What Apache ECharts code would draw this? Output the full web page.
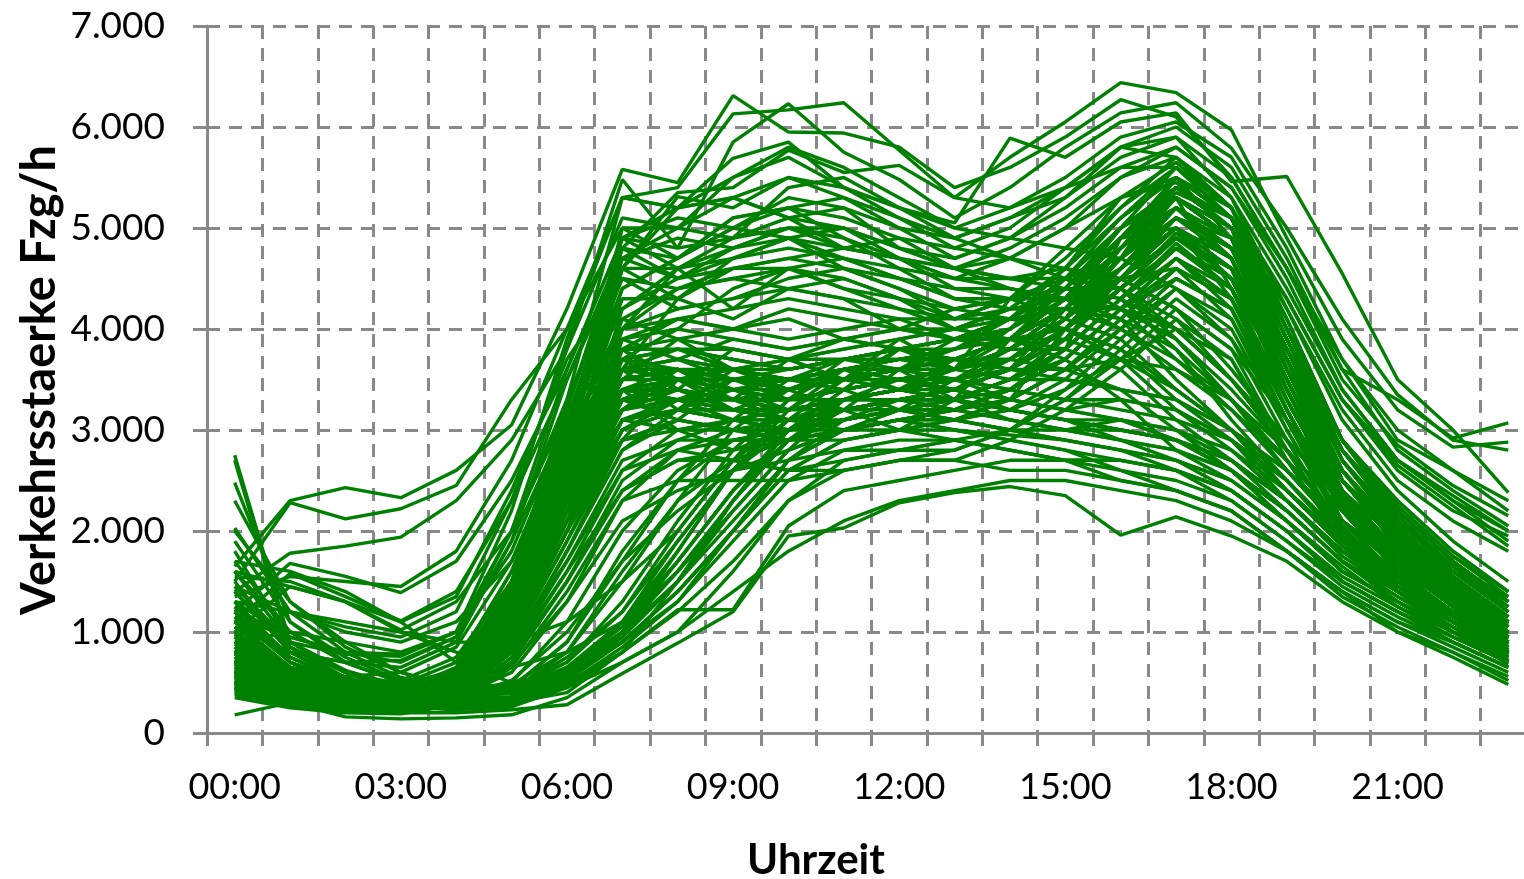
<!DOCTYPE html>
<html lang="de">
<head>
    <meta charset="UTF-8">
    <title>Verkehrsstaerke Tagesganglinien</title>
    <script src="https://cdn.jsdelivr.net/npm/echarts@6.0.0/dist/echarts.min.js"></script>
    <style>
        html, body { margin: 0; padding: 0; background: #fff; overflow: hidden; }
    </style>
</head>
<body>
    <!-- a bit wider than the window: the plot area runs past the right edge, as in the original -->
    <div id="main" style="width: 1540px;height:879px;"></div>
    <script type="text/javascript">
        // hour categories (one point per hour)
        const hours = ['00:00','01:00','02:00','03:00','04:00','05:00','06:00','07:00','08:00','09:00','10:00','11:00',
                       '12:00','13:00','14:00','15:00','16:00','17:00','18:00','19:00','20:00','21:00','22:00','23:00'];

        // high volume roads (busy also at night)
        const highLines = [
            [1650,2300,2430,2330,2600,3050,4200,5580,5450,6310,5950,5940,5800,5400,5600,5900,6270,6100,5500,4600,3600,3300,2920,3070],
            [1500,2280,2120,2220,2450,3300,4000,5300,5400,6130,6170,6240,5770,5300,5700,6050,6440,6340,5970,4900,3900,3200,2830,2880],
            [1400,1780,1850,1940,2300,2900,3800,5480,4800,5850,6230,5750,5480,5100,5400,5800,6140,6240,5790,5000,4100,3350,2900,2800],
            [1200,1680,1550,1390,1700,2500,3600,4900,5200,5690,5850,5400,5200,5050,5890,5700,6050,6140,5460,5510,4550,3500,3000,2380],
            [1100,1580,1350,1110,1400,2300,3500,4800,5350,5400,5770,5550,5620,5300,5200,5500,5900,6050,5700,4800,3700,2900,2600,2200],
            [1000,1450,1300,1020,1300,2000,3300,4600,5310,5200,5500,5300,5000,4900,5100,5300,5700,5900,5300,4400,3400,2700,2350,2000],
            [950,1200,1000,900,1100,1700,3000,4400,4700,5000,5200,5100,4900,4800,5000,5400,5800,5700,5200,4300,3300,2600,2200,1950],
            [900,1000,900,800,1000,1800,3100,4200,4600,4800,5000,5000,4800,4700,4900,5200,5600,5600,5100,4200,3200,2500,2100,1800],
            [1250,900,780,760,1000,2200,3900,5300,5200,5300,5500,5400,5200,5000,5200,5400,5800,6000,5600,4700,3600,2800,2400,2050],
            [1350,1550,1500,1450,1800,2700,4000,5000,4700,5100,5200,5300,5100,4900,5100,5400,5600,5800,5400,4600,3700,3000,2600,2300],
            [1050,800,700,650,900,1900,3500,4700,4900,4800,4900,4800,4700,4600,4800,5100,5500,5800,5400,4500,3400,2700,2300,1900],
            [1600,1450,1300,1100,1350,2400,3700,4500,4400,4600,4700,4800,4700,4600,4700,5000,5500,5700,5200,4300,3300,2700,2300,2000],
            [1150,950,800,700,950,2000,3600,4900,5100,5000,4900,4700,4600,4500,4700,5000,5300,5500,5100,4300,3300,2650,2250,1850],
            [1450,1200,1050,950,1200,2300,3800,5100,5000,4900,5100,5200,5000,4700,4900,5300,5800,5900,5500,4600,3500,2850,2450,2150]
        ];

        // morning-heavy direction
        const morningLines = [
            [600,400,320,300,450,1200,2800,5000,5000,5500,5700,5400,5100,4800,4700,4600,4500,4200,3800,3100,2400,1900,1500,1100],
            [550,380,300,290,420,1100,2600,4600,5200,5300,5100,5000,4700,4500,4400,4300,4200,4000,3500,2800,2200,1700,1300,1000],
            [700,450,350,330,500,1300,3000,4800,4700,5000,5300,5200,4800,4600,4500,4600,4400,3900,3300,2600,2000,1600,1300,950],
            [500,350,280,270,400,1000,2400,4200,4500,4800,5000,4900,4600,4300,4200,4200,4000,3700,3200,2600,2000,1550,1200,900],
            [650,420,330,320,480,1200,2700,4300,4300,4600,4700,4600,4500,4300,4300,4400,4300,3800,3100,2500,1900,1500,1200,900],
            [800,500,380,350,550,1400,3100,4500,4200,4300,4400,4300,4200,4100,4200,4300,4500,4200,3600,2900,2300,1800,1400,1000],
            [600,400,300,300,450,1150,2500,4000,4400,4500,4400,4300,4000,3900,3900,4000,3800,3300,2900,2300,1800,1400,1100,800],
            [450,330,260,250,380,900,2200,3800,4100,4200,4300,4200,4100,3900,3800,3800,3600,3100,2700,2200,1700,1300,1000,750],
            [700,450,340,320,500,1250,2900,4100,3900,4000,4100,3900,3800,3700,3700,3600,3400,3000,2600,2100,1600,1300,1050,800],
            [550,370,290,280,420,1000,2300,3700,4000,4400,4600,4400,4200,4000,3900,3700,3300,2800,2500,2100,1650,1250,1000,700],
            [750,480,370,340,520,1400,3200,4800,4500,4700,4900,4600,4400,4100,4300,4300,4000,3600,3200,2700,2100,1700,1350,1000],
            [500,360,280,270,400,1100,2700,4400,4700,5100,5200,4900,4700,4400,4300,4100,3900,3400,3000,2400,1900,1500,1150,850],
            [620,420,320,300,460,1200,2800,4600,4300,4100,4400,4500,4300,4000,4100,4000,3700,3200,2800,2300,1800,1450,1100,800],
            [900,560,420,380,560,1500,3300,5300,5200,5500,5800,5600,5300,5000,4900,4800,4700,4400,3900,3100,2500,2000,1600,1200],
            [550,390,300,290,430,1100,2500,4000,4600,4900,5400,5500,5200,4900,4700,4500,4200,3700,3300,2700,2100,1650,1300,950],
            [680,440,340,320,480,1250,2900,4700,5000,5300,5100,4800,4900,4600,4500,4400,4300,4000,3500,2800,2200,1750,1350,1000],
            [450,330,260,240,360,950,2100,3600,4300,4700,4900,5000,4800,4600,4400,4300,4100,3500,3000,2400,1850,1400,1100,800],
            [800,520,390,360,540,1300,3000,4900,4600,4200,4600,4700,4500,4300,4200,4200,4100,3800,3300,2700,2100,1650,1300,950],
            [680,460,340,320,500,1300,3000,4600,4600,4700,4800,4700,4500,4400,4400,4300,4200,3900,3400,2800,2200,1750,1350,1000],
            [560,380,290,280,420,1050,2400,4000,4200,4300,4500,4600,4400,4200,4100,4000,3800,3400,3000,2500,1950,1500,1150,850],
            [720,470,360,340,520,1350,3100,4700,4500,4600,4600,4500,4300,4200,4300,4400,4400,4100,3500,2900,2300,1800,1400,1050],
            [600,410,310,300,450,1150,2600,4100,4400,4500,4600,4400,4300,4100,4100,4200,4200,3900,3300,2700,2100,1650,1250,900],
            [820,530,400,370,560,1450,3200,4900,4800,4900,5000,4800,4700,4500,4500,4500,4400,4000,3500,2900,2300,1850,1450,1100],
            [500,350,270,260,390,1000,2300,3900,4100,4000,4200,4100,4000,3900,3900,3900,3700,3400,3000,2400,1900,1450,1100,800]
        ];

        // weekend / holiday days
        const weekendLines = [
            [400,300,230,200,200,230,280,590,890,1200,1950,2030,2280,2380,2440,2350,1960,2140,1950,1700,1300,1000,800,520],
            [180,300,160,140,150,180,350,700,1000,1400,1800,2100,2300,2400,2500,2500,2400,2300,2100,1800,1400,1000,750,480],
            [1200,700,450,320,250,260,500,800,1220,1220,2050,2400,2500,2600,2700,2700,2500,2400,2200,1800,1400,1100,900,650],
            [1800,900,600,450,350,320,450,700,1000,1600,2300,2700,2800,2900,2800,2700,2700,2600,2400,2000,1500,1200,950,700],
            [2750,900,600,400,300,300,400,800,1500,2300,2900,3200,3300,3300,3200,3100,3000,2900,2600,2200,1700,1300,1000,750],
            [2700,850,550,380,320,320,500,1000,1800,2600,3200,3500,3600,3500,3400,3300,3200,3100,2900,2500,1900,1500,1200,900],
            [2480,1100,700,500,400,420,700,1300,2100,2800,3300,3400,3500,3400,3300,3200,3100,2900,2700,2300,1800,1400,1100,850],
            [2030,1200,800,550,450,480,800,1500,2300,3000,3400,3600,3600,3500,3400,3300,3300,3200,2900,2400,1900,1500,1200,900],
            [1700,1000,700,500,400,450,900,1700,2500,3100,3500,3700,3700,3600,3500,3500,3400,3300,3000,2600,2000,1600,1300,1000],
            [1500,800,550,420,380,420,750,1200,2000,2700,3100,3300,3400,3300,3200,3100,2900,2800,2600,2200,1700,1400,1100,800],
            [1300,750,500,380,330,350,600,1000,1700,2400,2900,3100,3200,3100,3000,2900,2800,2700,2500,2100,1600,1300,1000,750],
            [1100,650,450,350,300,320,550,900,1400,2000,2600,2900,3000,3000,2900,2800,2600,2500,2300,1900,1450,1150,900,650],
            [900,600,400,320,280,300,520,1000,1600,2200,2800,3000,3100,3000,2950,2900,2800,2600,2300,1900,1500,1200,950,700],
            [800,550,380,300,270,300,600,1100,1900,2600,3000,3200,3200,3100,3000,3000,2900,2700,2400,2000,1500,1200,900,650],
            [1600,1000,700,500,420,450,700,1200,1900,2600,3100,3500,3800,3700,3600,3600,3700,3600,3300,2800,2200,1800,1400,1100],
            [1900,1100,750,520,420,420,650,1000,1500,2200,2800,3300,3400,3300,3100,3000,2900,2800,2600,2100,1600,1300,1000,800],
            [2300,1300,900,600,450,450,600,900,1400,2000,2700,3100,3300,3200,3300,3200,3100,2900,2600,2200,1700,1350,1050,780],
            [1000,650,450,330,290,310,560,950,1500,2300,2900,3300,3300,3200,3100,3000,3100,3000,2700,2300,1750,1400,1100,800],
            [1400,850,600,430,350,360,620,1100,1800,2600,3200,3600,3500,3400,3300,3200,3300,3200,2900,2500,1950,1550,1200,900],
            [700,480,350,280,250,280,480,850,1300,1900,2500,2800,2900,2900,2800,2700,2600,2400,2200,1800,1400,1100,850,600],
            [1700,1600,1400,1100,700,500,600,900,1300,2000,2700,3000,3200,3100,3000,2900,2800,2700,2500,2100,1600,1300,1000,750],
            [1550,1500,1300,1000,800,650,800,1100,1600,2300,3000,3400,3500,3400,3200,3100,3000,2900,2700,2300,1800,1450,1150,880],
            [1300,1200,1100,1000,900,900,1100,1500,2000,2700,3300,3700,3800,3700,3600,3500,3400,3300,3000,2600,2100,1700,1400,1100],
            [1200,750,520,400,330,340,560,950,1500,2100,2700,3000,3100,3000,2900,2800,2700,2600,2400,2000,1550,1250,950,720],
            [850,560,400,310,270,290,520,900,1400,2000,2600,2900,3000,2900,2800,2700,2700,2600,2400,2000,1500,1200,950,700],
            [1450,900,620,460,380,390,650,1050,1700,2400,3000,3300,3400,3300,3200,3100,3000,2900,2700,2300,1800,1450,1150,850],
            [600,420,310,260,230,260,450,800,1200,1700,2300,2600,2700,2700,2600,2600,2500,2400,2200,1800,1350,1050,800,560],
            [1000,650,460,350,300,320,600,1000,1600,2300,2900,3200,3300,3200,3100,3000,3000,2900,2600,2200,1700,1350,1050,780],
            [2000,1300,850,600,450,430,650,1100,1700,2400,3000,3300,3400,3300,3200,3100,3100,3000,2800,2400,1850,1500,1200,900]
        ];

        // working days with evening peak
        const weekdayLines = [
            [600,400,300,280,420,950,2100,3200,3400,3300,3200,3300,3400,3400,3600,3900,4500,5100,4700,3500,2400,1800,1350,950],
            [700,450,340,310,460,1050,2300,3400,3500,3400,3300,3400,3500,3500,3800,4100,4700,5300,4900,3600,2500,1900,1450,1050],
            [800,500,380,340,500,1150,2500,3600,3700,3500,3400,3500,3600,3600,3900,4200,4800,5400,5000,3800,2700,2000,1550,1150],
            [550,380,290,270,400,900,1900,3000,3200,3100,3100,3200,3300,3300,3500,3800,4300,4800,4400,3300,2300,1700,1300,900],
            [650,420,330,300,440,1000,2200,3300,3400,3200,3100,3200,3300,3400,3600,4000,4600,5000,4500,3400,2350,1750,1350,950],
            [900,550,400,360,520,1200,2400,3500,3600,3600,3500,3600,3700,3700,3900,4300,4900,5500,5100,3900,2800,2100,1600,1200],
            [500,350,270,250,380,850,1800,2800,3100,3000,2900,3000,3100,3200,3400,3700,4200,4700,4200,3100,2200,1600,1200,850],
            [750,480,360,330,480,1100,2300,3300,3300,3300,3400,3500,3600,3600,3800,4100,4600,5100,4800,3700,2600,1950,1500,1100],
            [1000,600,420,380,540,1250,2600,3700,3800,3700,3600,3700,3800,3900,4100,4400,5000,5600,5200,4000,2900,2200,1700,1300],
            [450,320,250,230,350,800,1700,2700,2900,2900,2900,3000,3100,3100,3300,3600,4100,4600,4100,3000,2100,1550,1150,800],
            [1200,700,480,420,560,1300,2700,3600,3600,3500,3400,3500,3600,3700,3900,4200,4800,5300,5000,3900,2800,2200,1700,1300],
            [600,420,320,300,450,1050,2400,3500,3600,3400,3200,3200,3300,3400,3600,3900,4400,4900,4600,3500,2400,1800,1400,1000],
            [700,460,350,320,470,1100,2300,3200,3300,3400,3500,3600,3700,3700,3900,4200,4700,5200,4900,3800,2600,2000,1500,1100],
            [850,520,390,350,500,1150,2400,3400,3500,3500,3500,3600,3700,3800,4000,4400,5000,5400,5000,3800,2700,2100,1600,1200],
            [550,370,290,270,410,950,2000,3100,3300,3200,3100,3100,3200,3200,3400,3700,4200,4700,4300,3200,2250,1650,1250,880],
            [1400,800,520,450,600,1400,2800,3900,4000,3900,3800,3900,4000,4000,4200,4600,5100,5500,5100,4000,2900,2300,1800,1400],
            [650,430,330,300,450,1000,2100,3000,3200,3200,3200,3300,3400,3500,3700,4100,4700,5300,4900,3700,2500,1850,1400,1000],
            [750,470,360,330,490,1100,2200,3100,3200,3100,3000,3100,3200,3300,3500,3900,4500,5000,4700,3600,2500,1900,1450,1050],
            [500,340,270,250,380,900,1900,2900,3100,3000,3000,3100,3200,3300,3500,3900,4400,4900,4500,3400,2300,1700,1250,850],
            [1600,900,600,480,620,1450,2900,4000,4100,4000,3900,4000,4100,4100,4300,4700,5200,5700,5300,4200,3100,2400,1900,1500],
            [600,400,310,290,430,1000,2200,3300,3500,3500,3500,3600,3600,3700,3900,4200,4800,5200,4700,3500,2400,1800,1350,950],
            [800,500,370,340,490,1150,2500,3500,3500,3300,3300,3400,3500,3500,3700,4000,4500,4900,4600,3500,2500,1900,1450,1100],
            [450,320,250,230,360,820,1800,2900,3100,3000,2900,2900,3000,3100,3300,3600,4000,4500,4200,3200,2200,1600,1200,820],
            [950,560,410,370,520,1200,2500,3600,3800,3800,3700,3700,3800,3900,4100,4500,5100,5600,5100,3900,2800,2100,1650,1250],
            [700,450,340,310,460,1050,2300,3300,3400,3300,3200,3300,3400,3500,3700,4100,4600,5000,4700,3600,2500,1900,1450,1000],
            [650,440,330,310,450,1000,2100,3100,3300,3400,3400,3500,3600,3600,3800,4100,4600,5100,4800,3700,2600,1950,1450,1050],
            [1100,650,450,400,550,1300,2600,3600,3700,3600,3600,3700,3800,3800,4000,4400,4900,5300,4900,3800,2700,2100,1650,1200],
            [550,380,300,280,420,950,2000,3000,3200,3100,3000,3000,3100,3200,3400,3800,4300,4800,4400,3300,2300,1700,1300,900],
            [800,490,370,340,490,1100,2400,3400,3600,3500,3400,3500,3500,3600,3800,4200,4700,5200,4800,3600,2600,1950,1500,1100],
            [600,410,310,290,440,1000,2100,3100,3200,3200,3100,3200,3300,3400,3600,4000,4500,5000,4600,3500,2400,1800,1350,950],
            [350,250,200,190,280,650,1400,2300,2500,2500,2500,2600,2700,2700,2900,3200,3600,4100,3700,2700,1900,1400,1050,700],
            [400,280,220,210,300,700,1500,2400,2700,2700,2600,2700,2800,2800,3000,3300,3800,4300,3900,2900,2000,1450,1100,720],
            [380,270,210,200,290,680,1300,2100,2400,2600,2700,2800,2800,2900,3000,3300,3700,4200,3800,2800,1950,1400,1000,680],
            [420,300,230,210,310,750,1600,2600,2800,2700,2600,2600,2700,2800,3000,3400,3900,4400,4000,3000,2050,1500,1100,750],
            [820,530,400,350,520,1300,2700,3300,3100,3500,3300,3600,3400,3700,3600,4200,4600,5200,4700,3400,2300,1700,1300,900],
            [560,410,300,300,400,1100,2300,2900,3500,3200,3400,3200,3600,3300,3900,3800,4900,5000,4300,3200,2200,1600,1300,800],
            [980,600,470,380,600,1400,2900,3800,3400,3300,3700,3500,3900,3600,4300,4500,4700,5500,4900,3700,2600,2000,1500,1050],
            [450,360,260,280,350,900,2000,3400,3000,3100,3000,3400,3200,3500,3300,4000,4400,4900,4600,3300,2300,1600,1200,780],
            [700,480,330,360,460,1250,2600,3600,3200,3600,3500,3400,3800,3600,4000,4300,5000,5300,4400,3500,2400,1800,1300,980],
            [1300,700,520,420,550,1200,2400,3500,3900,3600,3400,3600,3600,3800,4100,4600,5300,5450,5000,4100,2900,2150,1650,1350],
            [620,450,320,300,470,1150,2500,3200,3600,3400,3300,3300,3500,3400,3700,4100,4500,4600,4300,3300,2300,1750,1300,930],
            [750,520,380,330,520,1300,2800,3700,3400,3800,3700,3500,3600,3900,4000,4500,4800,5300,5000,3900,2700,2000,1500,1150],
            [520,360,280,260,420,1000,2100,3100,3000,2800,3000,3200,3000,3300,3500,3700,4200,4500,4200,3100,2100,1550,1150,850],
            [880,560,420,380,500,1150,2500,3600,3700,3900,3800,3900,4000,4200,4300,4800,5300,5650,5200,4100,2900,2200,1700,1250],
            [600,400,310,320,480,1250,2700,3500,3600,3300,3100,3000,3200,3200,3400,3800,4300,4850,4400,3200,2200,1650,1250,900],
            [1050,650,460,400,560,1300,2700,3800,3500,3500,3600,3700,3600,3700,3900,4300,4800,5350,5100,4000,2800,2100,1600,1250],
            [480,340,280,260,380,950,2000,3000,3300,3500,3400,3500,3400,3600,3700,4000,4400,4950,4500,3400,2400,1750,1300,880],
            [720,470,350,300,470,1100,2600,3900,3700,3600,3400,3600,3700,3800,3900,4300,4600,5100,4900,3700,2600,1900,1450,1080],
            [900,560,400,380,520,1250,2500,3400,3300,3100,3200,3300,3400,3500,3600,4000,4600,5200,4900,3800,2700,2050,1550,1150],
            [580,390,300,280,430,1050,2300,3200,3500,3600,3700,3900,3800,3900,4100,4400,4900,5400,5000,3700,2500,1850,1350,980],
            [900,600,450,420,650,1600,3000,3600,3500,3400,3300,3400,3500,3600,3800,4200,4800,5300,4900,3700,2600,2000,1550,1150],
            [650,430,330,320,500,1500,2800,3400,3300,3200,3200,3300,3400,3500,3700,4100,4700,5200,4800,3600,2500,1900,1400,1000],
            [500,340,260,250,350,600,1300,2300,2800,3000,3100,3200,3300,3300,3500,3800,4300,4700,4300,3200,2200,1600,1200,820],
            [550,360,270,260,380,700,1500,2500,2900,3100,3200,3300,3400,3500,3600,4000,4500,5000,4600,3400,2300,1700,1250,880],
            [780,500,380,350,560,1450,2900,3700,3800,3600,3500,3500,3600,3700,3900,4300,4900,5400,5100,3900,2700,2050,1550,1100],
            [620,400,310,300,450,900,1700,2600,3000,3100,3200,3300,3300,3400,3600,3900,4400,4900,4600,3400,2300,1700,1300,900],
            [1150,700,500,430,620,1500,2900,3800,3900,3800,3700,3800,3900,4000,4200,4600,5200,5600,5200,4000,2900,2250,1750,1350],
            [480,330,260,240,360,800,1600,2400,2700,2800,2900,3000,3000,3100,3200,3500,4000,4500,4200,3100,2100,1550,1150,800],
            [720,470,360,330,480,1050,2100,3000,3300,3300,3200,3300,3400,3500,3700,4100,4800,5400,5000,3700,2500,1900,1450,1050],
            [850,540,400,370,540,1250,2600,3500,3600,3400,3300,3400,3500,3600,3800,4200,4700,5100,4800,3700,2600,2000,1550,1150],
            [600,390,300,290,430,1000,2200,3200,3400,3300,3300,3400,3500,3600,3800,4200,4800,5300,4900,3600,2500,1850,1400,1000],
            [950,580,430,380,540,1200,2400,3300,3500,3500,3500,3500,3600,3700,3900,4300,4900,5500,5200,4100,2900,2200,1700,1300],
            [520,360,280,260,380,850,1800,2800,3200,3400,3500,3600,3600,3700,3900,4200,4700,5100,4700,3500,2400,1750,1300,900],
            [700,460,350,330,480,1100,2300,3300,3500,3600,3700,3800,3900,4000,4200,4600,5100,5500,5100,3900,2700,2050,1550,1150],
            [1250,750,520,440,600,1350,2700,3600,3600,3500,3400,3500,3600,3700,3900,4400,5000,5400,5100,4000,2900,2250,1750,1400],
            [580,390,300,280,420,950,2000,2900,3000,3000,3000,3100,3200,3300,3500,3800,4300,4800,4500,3400,2350,1700,1300,900],
            [800,510,380,350,500,1150,2400,3400,3400,3200,3100,3200,3300,3400,3600,4000,4600,5100,4800,3700,2600,1950,1500,1100],
            [680,450,340,320,470,1050,2200,3100,3200,3100,3100,3200,3300,3400,3600,4000,4400,4800,4500,3400,2400,1800,1350,950],
            [1000,620,450,400,560,1300,2700,3700,3800,3700,3600,3700,3800,3900,4100,4500,5000,5400,5000,3900,2800,2150,1650,1250],
            [430,300,240,220,330,750,1500,2400,2800,2900,2900,3000,3100,3200,3300,3600,4100,4600,4300,3200,2200,1600,1150,780],
            [900,650,560,600,850,1700,2800,3400,3500,3400,3400,3500,3600,3700,3900,4300,4900,5300,4900,3700,2600,2000,1500,1100],
            [1100,800,700,720,950,1900,3100,3700,3600,3500,3500,3600,3700,3800,4000,4400,4900,5200,4800,3800,2800,2200,1700,1300],
            [800,600,500,520,750,1500,2600,3300,3400,3300,3300,3400,3500,3600,3800,4100,4600,5000,4700,3500,2500,1900,1450,1050],
            [1300,950,800,780,1000,2000,3200,3800,3800,3700,3600,3700,3800,3900,4100,4500,5000,5400,5000,3900,2900,2300,1800,1400],
            [700,520,450,480,700,1600,2700,3200,3300,3200,3200,3300,3400,3500,3700,4000,4500,4900,4600,3500,2400,1800,1350,950],
            [500,350,260,240,300,450,900,1800,2500,2900,3000,3100,3200,3300,3400,3700,4200,4600,4300,3200,2200,1600,1200,800],
            [450,320,250,230,280,420,800,1600,2300,2700,2900,3000,3100,3200,3300,3600,4000,4400,4100,3100,2100,1550,1150,780],
            [550,380,280,260,320,500,1100,2000,2600,2900,3000,3100,3200,3200,3400,3700,4200,4700,4400,3300,2300,1650,1250,850],
            [600,400,300,280,340,520,1000,1700,2200,2600,2800,3000,3100,3100,3200,3400,3700,4000,3700,2800,2000,1500,1100,780]
        ];

        // y axis tick values and their German labels
        const yTicks = [0, 1000, 2000, 3000, 4000, 5000, 6000, 7000];
        const yLabels = ['0', '1.000', '2.000', '3.000', '4.000', '5.000', '6.000', '7.000'];

        const allLines = [].concat(highLines, morningLines, weekendLines, weekdayLines);

        let myChart = echarts.init(document.getElementById('main'));

        const gridGrey = '#898989';
        const labelFont = 'Lato';

        let options = {
            animation: false,
            backgroundColor: '#ffffff',
            grid: { left: 207, top: 26, width: 1329, height: 707 },
            xAxis: {
                type: 'category',
                data: hours,
                boundaryGap: true,
                axisLine: { lineStyle: { color: gridGrey, width: 3 } },
                axisTick: { show: true, interval: 0, length: 13, lineStyle: { color: gridGrey, width: 3 } },
                axisLabel: {
                    interval: 2,
                    margin: 36,
                    color: '#000',
                    fontSize: 36,
                    fontFamily: labelFont
                },
                splitLine: {
                    show: true,
                    interval: 0,
                    lineStyle: { color: gridGrey, width: 3, type: [13, 9] }
                }
            },
            yAxis: {
                type: 'value',
                min: yTicks[0],
                max: yTicks[yTicks.length - 1],
                interval: 1000,
                axisLine: { show: true, lineStyle: { color: gridGrey, width: 3 } },
                axisTick: { show: true, length: 14, lineStyle: { color: gridGrey, width: 3 } },
                axisLabel: {
                    margin: 42,
                    color: '#000',
                    fontSize: 37,
                    fontFamily: labelFont,
                    formatter: v => yLabels[yTicks.indexOf(v)]
                },
                splitLine: {
                    show: true,
                    lineStyle: { color: gridGrey, width: 3, type: [13, 9] }
                }
            },
            graphic: [
                {
                    type: 'text', x: 816, y: 860,
                    style: { text: 'Uhrzeit', font: 'bold 42px Lato', fill: '#000',
                             align: 'center', verticalAlign: 'middle' }
                },
                {
                    type: 'text', x: 40, y: 380, rotation: Math.PI / 2,
                    style: { text: 'Verkehrsstaerke Fzg/h', font: 'bold 47px Lato', fill: '#000',
                             align: 'center', verticalAlign: 'middle' }
                }
            ],
            series: allLines.map((line, i) => ({
                name: 'Tag ' + (i + 1),
                type: 'line',
                data: line,
                showSymbol: false,
                silent: true,
                lineStyle: { color: '#008000', width: 3.4 },
                itemStyle: { color: '#008000' }
            }))
        };

        myChart.setOption(options);
    </script>
</body>
</html>
